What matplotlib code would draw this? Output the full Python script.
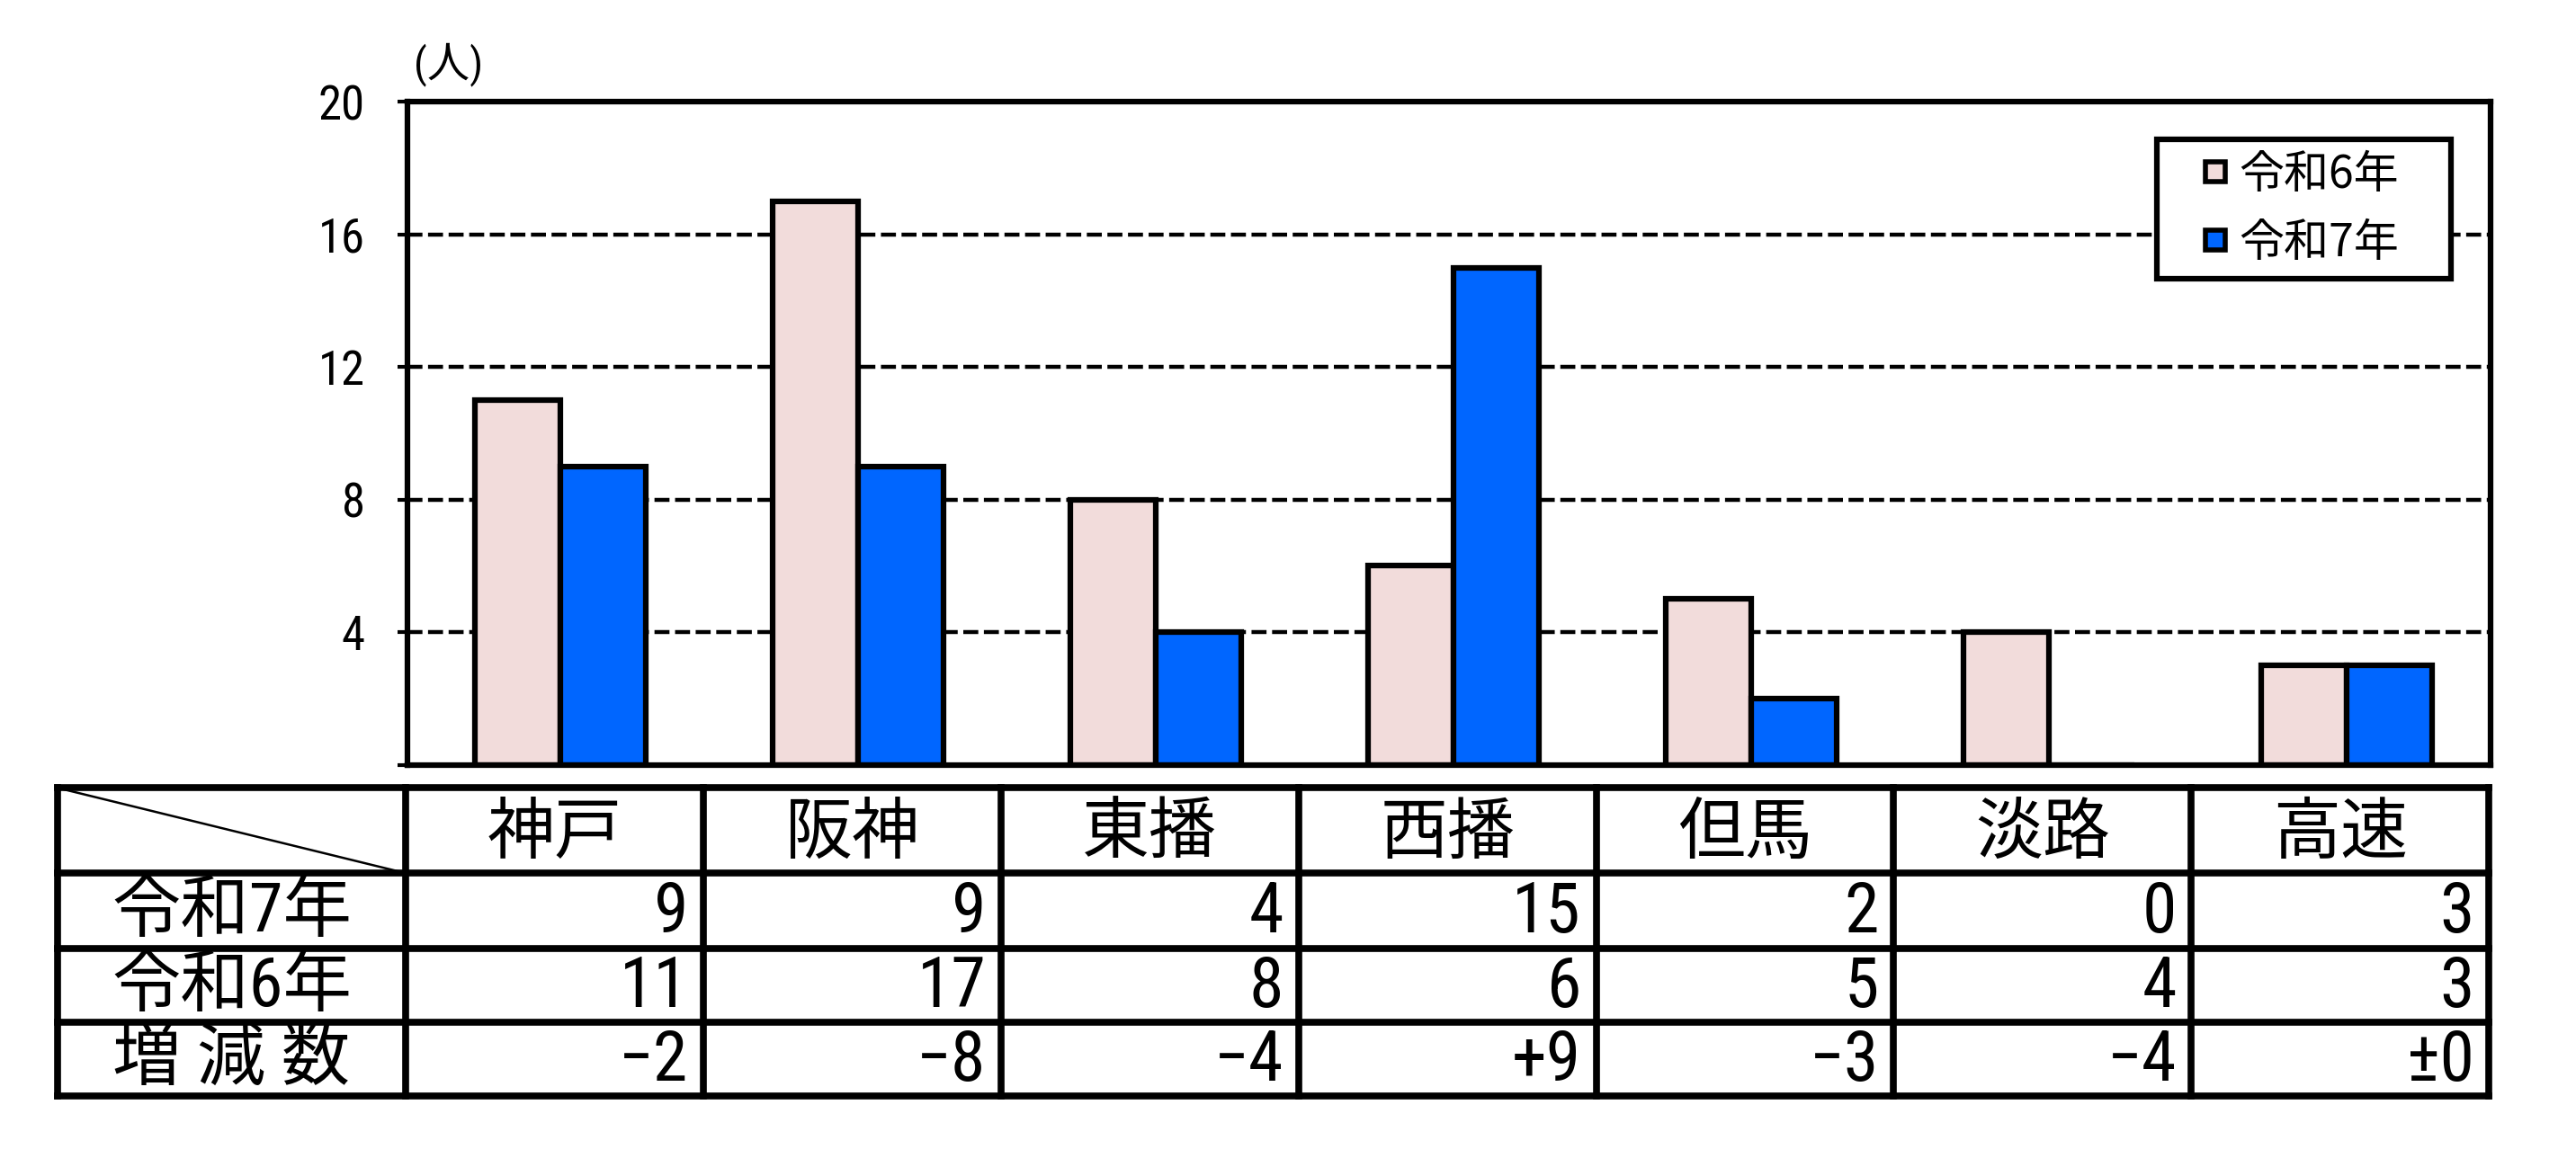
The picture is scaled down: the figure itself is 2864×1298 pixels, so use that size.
import matplotlib
matplotlib.use("Agg")
import matplotlib.pyplot as plt
from matplotlib import font_manager
from matplotlib.lines import Line2D

# -----------------------------
# FONTS
# -----------------------------
names = {f.name for f in font_manager.fontManager.ttflist}
jp = "Noto Sans CJK JP"
cond = "Liberation Sans"
for cand in ["Roboto Condensed", "Archivo Narrow", "PT Sans Narrow",
             "IBM Plex Sans Condensed", "Open Sans Condensed"]:
    if cand in names:
        cond = cand
        break
plt.rcParams["font.family"] = [cond, jp, "DejaVu Sans"]

# -----------------------------
# DATA
# -----------------------------
areas = ["神戸", "阪神", "東播", "西播", "但馬", "淡路", "高速"]
r6 = [11, 17, 8, 6, 5, 4, 3]
r7 = [9, 9, 4, 15, 2, 0, 3]
series_names = ["令和6年", "令和7年"]
row_labels = ["令和7年", "令和6年", "増 減 数"]
yticks = [0, 4, 8, 12, 16, 20]

pink = "#F2DCDB"
blue = "#0066FF"


def fmt_diff(d):
    if d == 0:
        return "±0"
    if d > 0:
        return "+%d" % d
    return "\u2212%d" % abs(d)


diff = [fmt_diff(a - b) for a, b in zip(r7, r6)]

# -----------------------------
# FIGURE
# -----------------------------
W, H = 1568, 711
fig = plt.figure(figsize=(28.64, 12.98), dpi=100)

ax = fig.add_axes([248 / W, 1 - 466 / H, (1516 - 248) / W, (466 - 62) / H])

x = list(range(len(areas)))
bw = 0.287
off = 0.015
b6 = ax.bar([i - bw / 2 + off for i in x], r6, width=bw, color=pink,
            edgecolor="black", linewidth=4.5, zorder=3)
b7 = ax.bar([i + bw / 2 + off for i in x], r7, width=bw, color=blue,
            edgecolor="black", linewidth=4.5, zorder=3)

ax.set_xlim(-0.5, len(areas) - 0.5)
ax.set_ylim(0, 20)
ax.set_xticks([])
ax.set_yticks(yticks)
ax.set_yticklabels(["" if v == 0 else str(v) for v in yticks], fontsize=38)
ax.tick_params(axis="y", length=8, width=3, pad=26)
ax.grid(axis="y", color="black", linestyle=(0, (3.75, 1.4)), linewidth=3.2, zorder=1)
ax.set_axisbelow(True)
for s in ax.spines.values():
    s.set_linewidth(4.5)
    s.set_zorder(4)

ax.text(0.003, 1.056, "(人)", transform=ax.transAxes, fontsize=34,
        ha="left", va="center")

handles = [Line2D([], [], linestyle="none", marker="s", markersize=16.5,
                  markerfacecolor=c, markeredgecolor="black", markeredgewidth=4)
           for c in (pink, blue)]
leg = ax.legend(handles, series_names, loc="upper left", mode="expand",
                bbox_to_anchor=(0.840, 0.717, 0.141, 0.226),
                fancybox=False, edgecolor="black", framealpha=1,
                prop={"family": [jp], "size": 36},
                handlelength=2.04, handletextpad=-0.5,
                borderpad=0.27, labelspacing=0.48, borderaxespad=0)
leg.get_frame().set_linewidth(4.5)
leg.set_zorder(5)

# -----------------------------
# TABLE
# -----------------------------
tx0, tx1, ty0, ty1 = 35, 1515, 480, 668
tax = fig.add_axes([tx0 / W, 1 - ty1 / H, (tx1 - tx0) / W, (ty1 - ty0) / H])
first_w = (247 - tx0) / ((tx1 - 247) / len(areas))
row_edges = [0, 52, 98, 143, 188]
tax.set_xlim(-first_w, len(areas))
tax.set_ylim(row_edges[-1], 0)
tax.axis("off")

for xe in [-first_w] + list(range(len(areas) + 1)):
    tax.plot([xe, xe], [0, row_edges[-1]], color="black", lw=5.5, clip_on=False,
             solid_capstyle="projecting")
for ye in row_edges:
    tax.plot([-first_w, len(areas)], [ye, ye], color="black", lw=5.5, clip_on=False,
             solid_capstyle="projecting")
tax.plot([-first_w, 0], [0, row_edges[1]], color="black", lw=1.8)

for i, name in enumerate(areas):
    tax.text(i + 0.5, row_edges[1] / 2 + 2, name, ha="center", va="center",
             fontsize=54, family=[jp])

rows = [[str(v) for v in r7], [str(v) for v in r6], diff]
for r, (label, vals) in enumerate(zip(row_labels, rows)):
    cy = (row_edges[r + 1] + row_edges[r + 2]) / 2
    tax.text(-first_w / 2, cy + 1, label, ha="center", va="center", fontsize=55)
    for i, v in enumerate(vals):
        tax.text(i + 1 - 0.05, cy + 1, v, ha="right", va="center", fontsize=56)

fig.savefig("out.png", dpi=100)
